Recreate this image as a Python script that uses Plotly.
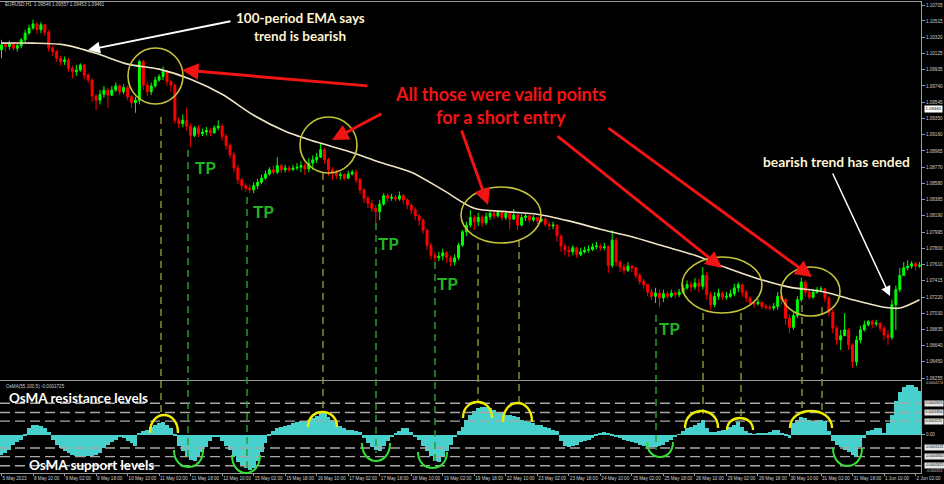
import plotly.graph_objects as go

# ---------------- canvas geometry ----------------
W, H = 944, 484
ML, MR, MT, MB = 0, 23, 2, 11
PW, PH = W - ML - MR, H - MT - MB

# ---------------- data (EURUSD, 2-hour bars) ----------------
bar_open = [1.1017, 1.1023, 1.1021, 1.1024, 1.1019, 1.1022, 1.1029, 1.1037, 1.1043, 1.1048,
            1.1041, 1.1047, 1.1038, 1.1019, 1.1015, 1.1007, 1.1003, 1.1005, 1.0995, 1.0991,
            1.0993, 1.0999, 1.0987, 1.0981, 1.0962, 1.0957, 1.0964, 1.0969, 1.0963, 1.0969,
            1.0974, 1.0967, 1.0972, 1.0961, 1.0954, 1.0957, 1.1003, 1.0975, 1.0967, 1.0974,
            1.0981, 1.0985, 1.0991, 1.0979, 1.0975, 1.0933, 1.0929, 1.0933, 1.0926, 1.0915,
            1.0924, 1.0917, 1.0919, 1.0921, 1.0918, 1.0924, 1.0926, 1.0914, 1.0903, 1.0892,
            1.0876, 1.0862, 1.0855, 1.0852, 1.0850, 1.0855, 1.0859, 1.0864, 1.0869, 1.0874,
            1.0871, 1.0879, 1.0874, 1.0876, 1.0874, 1.0876, 1.0877, 1.0879, 1.0875, 1.0882,
            1.0886, 1.0889, 1.0898, 1.0886, 1.0874, 1.0870, 1.0867, 1.0868, 1.0864, 1.0869,
            1.0871, 1.0862, 1.0850, 1.0840, 1.0834, 1.0828, 1.0824, 1.0833, 1.0843, 1.0840,
            1.0841, 1.0839, 1.0843, 1.0838, 1.0832, 1.0826, 1.0819, 1.0814, 1.0802, 1.0784,
            1.0772, 1.0769, 1.0771, 1.0775, 1.0769, 1.0764, 1.0769, 1.0784, 1.0800, 1.0808,
            1.0817, 1.0812, 1.0817, 1.0811, 1.0818, 1.0822, 1.0819, 1.0823, 1.0817, 1.0822,
            1.0815, 1.0820, 1.0808, 1.0817, 1.0819, 1.0814, 1.0817, 1.0813, 1.0815, 1.0809,
            1.0807, 1.0808, 1.0795, 1.0783, 1.0778, 1.0776, 1.0781, 1.0773, 1.0776, 1.0778,
            1.0779, 1.0782, 1.0783, 1.0781, 1.0782, 1.0760, 1.0790, 1.0764, 1.0758, 1.0754,
            1.0759, 1.0757, 1.0748, 1.0741, 1.0737, 1.0728, 1.0723, 1.0727, 1.0721, 1.0726,
            1.0723, 1.0727, 1.0725, 1.0728, 1.0733, 1.0737, 1.0734, 1.0739, 1.0735, 1.0748,
            1.0725, 1.0713, 1.0723, 1.0727, 1.0722, 1.0723, 1.0726, 1.0733, 1.0737, 1.0728,
            1.0721, 1.0715, 1.0714, 1.0716, 1.0711, 1.0710, 1.0709, 1.0711, 1.0723, 1.0719,
            1.0697, 1.0686, 1.0700, 1.0719, 1.0740, 1.0728, 1.0722, 1.0728, 1.0731, 1.0732,
            1.0721, 1.0704, 1.0685, 1.0671, 1.0676, 1.0683, 1.0665, 1.0645, 1.0671, 1.0683,
            1.0689, 1.0693, 1.0690, 1.0691, 1.0685, 1.0677, 1.0674, 1.0713, 1.0731, 1.0748,
            1.0757, 1.0759, 1.0762, 1.0759]

bar_high = [1.1029, 1.1026, 1.1028, 1.1025, 1.1024, 1.1031, 1.1041, 1.1047, 1.1053, 1.1050,
            1.1050, 1.1048, 1.1041, 1.1022, 1.1017, 1.1010, 1.1009, 1.1007, 1.0998, 1.0999,
            1.1001, 1.1000, 1.0989, 1.0983, 1.0964, 1.0969, 1.0974, 1.0972, 1.0974, 1.0978,
            1.0976, 1.0976, 1.0974, 1.0963, 1.0961, 1.1005, 1.1005, 1.0979, 1.0978, 1.0985,
            1.0988, 1.0997, 1.0993, 1.0981, 1.0976, 1.0937, 1.0940, 1.0948, 1.0929, 1.0926,
            1.0927, 1.0923, 1.0925, 1.0924, 1.0927, 1.0933, 1.0929, 1.0917, 1.0906, 1.0895,
            1.0880, 1.0864, 1.0858, 1.0856, 1.0859, 1.0863, 1.0868, 1.0873, 1.0877, 1.0879,
            1.0889, 1.0881, 1.0880, 1.0879, 1.0880, 1.0882, 1.0884, 1.0882, 1.0888, 1.0891,
            1.0894, 1.0906, 1.0900, 1.0888, 1.0877, 1.0874, 1.0871, 1.0870, 1.0873, 1.0874,
            1.0874, 1.0864, 1.0852, 1.0843, 1.0838, 1.0832, 1.0838, 1.0846, 1.0846, 1.0845,
            1.0844, 1.0848, 1.0845, 1.0840, 1.0834, 1.0829, 1.0821, 1.0816, 1.0804, 1.0787,
            1.0776, 1.0776, 1.0780, 1.0777, 1.0772, 1.0773, 1.0787, 1.0802, 1.0812, 1.0826,
            1.0820, 1.0823, 1.0820, 1.0823, 1.0826, 1.0825, 1.0826, 1.0825, 1.0825, 1.0824,
            1.0827, 1.0824, 1.0821, 1.0821, 1.0820, 1.0820, 1.0818, 1.0819, 1.0817, 1.0812,
            1.0812, 1.0809, 1.0797, 1.0786, 1.0783, 1.0784, 1.0782, 1.0781, 1.0782, 1.0784,
            1.0786, 1.0788, 1.0786, 1.0787, 1.0784, 1.0802, 1.0793, 1.0766, 1.0762, 1.0764,
            1.0760, 1.0758, 1.0751, 1.0744, 1.0738, 1.0732, 1.0733, 1.0731, 1.0731, 1.0729,
            1.0731, 1.0729, 1.0732, 1.0737, 1.0742, 1.0741, 1.0745, 1.0744, 1.0758, 1.0752,
            1.0728, 1.0728, 1.0732, 1.0729, 1.0728, 1.0731, 1.0738, 1.0740, 1.0738, 1.0731,
            1.0723, 1.0719, 1.0720, 1.0717, 1.0714, 1.0713, 1.0715, 1.0728, 1.0726, 1.0721,
            1.0701, 1.0704, 1.0723, 1.0745, 1.0742, 1.0731, 1.0732, 1.0734, 1.0735, 1.0733,
            1.0723, 1.0707, 1.0688, 1.0683, 1.0703, 1.0685, 1.0667, 1.0676, 1.0688, 1.0694,
            1.0695, 1.0695, 1.0695, 1.0692, 1.0688, 1.0683, 1.0719, 1.0736, 1.0757, 1.0764,
            1.0766, 1.0765, 1.0764, 1.0764]

bar_low = [1.1007, 1.1015, 1.1017, 1.1016, 1.1015, 1.1019, 1.1026, 1.1035, 1.1041, 1.1036,
           1.1037, 1.1034, 1.1015, 1.1010, 1.1003, 1.0998, 1.0999, 1.0991, 1.0983, 1.0986,
           1.0991, 1.0982, 1.0978, 1.0955, 1.0945, 1.0952, 1.0960, 1.0948, 1.0962, 1.0967,
           1.0963, 1.0964, 1.0957, 1.0948, 1.0942, 1.0952, 1.0969, 1.0962, 1.0963, 1.0972,
           1.0979, 1.0981, 1.0974, 1.0967, 1.0929, 1.0924, 1.0925, 1.0921, 1.0901, 1.0913,
           1.0913, 1.0914, 1.0915, 1.0914, 1.0917, 1.0921, 1.0909, 1.0898, 1.0888, 1.0871,
           1.0857, 1.0850, 1.0848, 1.0846, 1.0846, 1.0851, 1.0857, 1.0862, 1.0867, 1.0868,
           1.0869, 1.0870, 1.0871, 1.0871, 1.0873, 1.0874, 1.0871, 1.0868, 1.0871, 1.0874,
           1.0882, 1.0888, 1.0881, 1.0867, 1.0862, 1.0863, 1.0862, 1.0861, 1.0863, 1.0867,
           1.0858, 1.0845, 1.0834, 1.0828, 1.0824, 1.0810, 1.0814, 1.0831, 1.0836, 1.0837,
           1.0836, 1.0837, 1.0833, 1.0827, 1.0821, 1.0814, 1.0807, 1.0798, 1.0778, 1.0767,
           1.0764, 1.0765, 1.0766, 1.0763, 1.0759, 1.0760, 1.0766, 1.0782, 1.0795, 1.0805,
           1.0802, 1.0807, 1.0806, 1.0808, 1.0814, 1.0815, 1.0817, 1.0813, 1.0814, 1.0803,
           1.0814, 1.0802, 1.0806, 1.0813, 1.0811, 1.0812, 1.0809, 1.0811, 1.0806, 1.0802,
           1.0803, 1.0788, 1.0776, 1.0772, 1.0770, 1.0772, 1.0769, 1.0771, 1.0774, 1.0775,
           1.0777, 1.0779, 1.0777, 1.0778, 1.0751, 1.0757, 1.0759, 1.0752, 1.0750, 1.0752,
           1.0752, 1.0744, 1.0737, 1.0732, 1.0723, 1.0719, 1.0715, 1.0710, 1.0716, 1.0720,
           1.0721, 1.0721, 1.0722, 1.0726, 1.0731, 1.0728, 1.0731, 1.0728, 1.0731, 1.0719,
           1.0707, 1.0710, 1.0719, 1.0719, 1.0719, 1.0721, 1.0723, 1.0728, 1.0722, 1.0716,
           1.0712, 1.0709, 1.0712, 1.0708, 1.0707, 1.0706, 1.0706, 1.0707, 1.0713, 1.0689,
           1.0679, 1.0683, 1.0697, 1.0716, 1.0723, 1.0719, 1.0720, 1.0726, 1.0728, 1.0716,
           1.0699, 1.0679, 1.0665, 1.0659, 1.0676, 1.0659, 1.0638, 1.0640, 1.0667, 1.0681,
           1.0687, 1.0685, 1.0687, 1.0681, 1.0671, 1.0665, 1.0671, 1.0683, 1.0728, 1.0751,
           1.0754, 1.0756, 1.0754, 1.0757]

bar_close = [1.1023, 1.1021, 1.1024, 1.1019, 1.1022, 1.1029, 1.1037, 1.1043, 1.1048, 1.1041,
             1.1047, 1.1038, 1.1019, 1.1015, 1.1007, 1.1003, 1.1005, 1.0995, 1.0991, 1.0993,
             1.0999, 1.0987, 1.0981, 1.0962, 1.0957, 1.0964, 1.0969, 1.0963, 1.0969, 1.0974,
             1.0967, 1.0972, 1.0961, 1.0954, 1.0957, 1.1003, 1.0975, 1.0967, 1.0974, 1.0981,
             1.0985, 1.0991, 1.0979, 1.0975, 1.0933, 1.0929, 1.0933, 1.0926, 1.0915, 1.0924,
             1.0917, 1.0919, 1.0921, 1.0918, 1.0924, 1.0926, 1.0914, 1.0903, 1.0892, 1.0876,
             1.0862, 1.0855, 1.0852, 1.0850, 1.0855, 1.0859, 1.0864, 1.0869, 1.0874, 1.0871,
             1.0879, 1.0874, 1.0876, 1.0874, 1.0876, 1.0877, 1.0879, 1.0875, 1.0882, 1.0886,
             1.0889, 1.0898, 1.0886, 1.0874, 1.0870, 1.0867, 1.0868, 1.0864, 1.0869, 1.0871,
             1.0862, 1.0850, 1.0840, 1.0834, 1.0828, 1.0824, 1.0833, 1.0843, 1.0840, 1.0841,
             1.0839, 1.0843, 1.0838, 1.0832, 1.0826, 1.0819, 1.0814, 1.0802, 1.0784, 1.0772,
             1.0769, 1.0771, 1.0775, 1.0769, 1.0764, 1.0769, 1.0784, 1.0800, 1.0808, 1.0817,
             1.0812, 1.0817, 1.0811, 1.0818, 1.0822, 1.0819, 1.0823, 1.0817, 1.0822, 1.0815,
             1.0820, 1.0808, 1.0817, 1.0819, 1.0814, 1.0817, 1.0813, 1.0815, 1.0809, 1.0807,
             1.0808, 1.0795, 1.0783, 1.0778, 1.0776, 1.0781, 1.0773, 1.0776, 1.0778, 1.0779,
             1.0782, 1.0783, 1.0781, 1.0782, 1.0760, 1.0790, 1.0764, 1.0758, 1.0754, 1.0759,
             1.0757, 1.0748, 1.0741, 1.0737, 1.0728, 1.0723, 1.0727, 1.0721, 1.0726, 1.0723,
             1.0727, 1.0725, 1.0728, 1.0733, 1.0737, 1.0734, 1.0739, 1.0735, 1.0748, 1.0725,
             1.0713, 1.0723, 1.0727, 1.0722, 1.0723, 1.0726, 1.0733, 1.0737, 1.0728, 1.0721,
             1.0715, 1.0714, 1.0716, 1.0711, 1.0710, 1.0709, 1.0711, 1.0723, 1.0719, 1.0697,
             1.0686, 1.0700, 1.0719, 1.0740, 1.0728, 1.0722, 1.0728, 1.0731, 1.0732, 1.0721,
             1.0704, 1.0685, 1.0671, 1.0676, 1.0683, 1.0665, 1.0645, 1.0671, 1.0683, 1.0689,
             1.0693, 1.0690, 1.0691, 1.0685, 1.0677, 1.0674, 1.0713, 1.0731, 1.0748, 1.0757,
             1.0759, 1.0762, 1.0759, 1.0760]

bar_idx = list(range(len(bar_close)))

# 100-period EMA (bar index, value)
ema_idx = [0, 8, 16, 24, 32, 40, 48, 56, 64, 72, 80, 88, 96, 104, 112, 120, 128, 136,
           144, 152, 160, 168, 176, 184, 192, 200, 208, 216, 224, 228, 233]
ema_val = [1.1025, 1.1025, 1.1023, 1.1013, 1.1000, 1.0994, 1.0982, 1.0964, 1.0939, 1.0920,
           1.0907, 1.0896, 1.0883, 1.0871, 1.0850, 1.0828, 1.0824, 1.0821, 1.0813, 1.0803,
           1.0794, 1.0783, 1.0772, 1.0757, 1.0744, 1.0734, 1.0729, 1.0719, 1.0710, 1.0709,
           1.0719]

# OsMA(55,100,5) histogram, one value per bar
osma = [-0.000168, -0.000158, -0.000126, -0.000084, -0.000063, -0.000042, -0.000011, 0.000053, 0.000084, 0.000084,
        0.000074, 0.000053, 0.000021, -0.000042, -0.000084, -0.000116, -0.000137, -0.000158, -0.000168, -0.000179,
        -0.000179, -0.000189, -0.000179, -0.000179, -0.000168, -0.000158, -0.000116, -0.000084, -0.000063, -0.000042,
        -0.000021, -0.000032, -0.000053, -0.000074, -0.000095, 0.000011, 0.000032, 0.000042, 0.000063, 0.000084,
        0.000095, 0.000105, 0.000084, 0.000053, -0.000011, -0.000095, -0.000137, -0.000179, -0.000210, -0.000221,
        -0.000189, -0.000147, -0.000105, -0.000053, -0.000021, -0.000021, -0.000053, -0.000095, -0.000126, -0.000179,
        -0.000231, -0.000263, -0.000284, -0.000294, -0.000284, -0.000221, -0.000147, -0.000074, -0.000011, 0.000032,
        0.000053, 0.000063, 0.000074, 0.000084, 0.000095, 0.000105, 0.000116, 0.000116, 0.000126, 0.000137,
        0.000158, 0.000179, 0.000179, 0.000147, 0.000126, 0.000105, 0.000074, 0.000053, 0.000042, 0.000042,
        0.000032, 0.000021, -0.000032, -0.000074, -0.000105, -0.000126, -0.000137, -0.000095, -0.000053, -0.000021,
        0.000011, 0.000032, 0.000053, 0.000053, 0.000021, -0.000021, -0.000042, -0.000095, -0.000137, -0.000179,
        -0.000221, -0.000231, -0.000189, -0.000137, -0.000084, -0.000021, 0.000032, 0.000063, 0.000126, 0.000168,
        0.000200, 0.000221, 0.000231, 0.000231, 0.000221, 0.000210, 0.000189, 0.000179, 0.000168, 0.000168,
        0.000158, 0.000147, 0.000126, 0.000116, 0.000105, 0.000095, 0.000084, 0.000084, 0.000063, 0.000053,
        0.000042, 0.000032, -0.000053, -0.000095, -0.000105, -0.000095, -0.000084, -0.000063, -0.000053, -0.000042,
        -0.000032, -0.000011, 0.000011, 0.000021, 0.000011, -0.000011, -0.000021, -0.000032, -0.000042, -0.000053,
        -0.000063, -0.000074, -0.000084, -0.000095, -0.000105, -0.000105, -0.000105, -0.000095, -0.000084, -0.000063,
        -0.000042, -0.000021, 0.000002, 0.000032, 0.000053, 0.000063, 0.000084, 0.000095, 0.000126, 0.000053,
        0.000021, 0.000021, 0.000032, 0.000042, 0.000042, 0.000063, 0.000084, 0.000105, 0.000063, 0.000032,
        0.000011, 0.000003, 0.000011, 0.000011, 0.000011, 0.000021, 0.000042, 0.000042, 0.000011, -0.000011,
        -0.000032, 0.000095, 0.000126, 0.000147, 0.000137, 0.000126, 0.000116, 0.000126, 0.000126, 0.000116,
        0.000032, -0.000053, -0.000084, -0.000105, -0.000126, -0.000147, -0.000168, -0.000189, -0.000105, -0.000032,
        0.000032, 0.000042, 0.000053, 0.000053, 0.000011, 0.000095, 0.000168, 0.000284, 0.000357, 0.000399,
        0.000417, 0.000417, 0.000399, 0.000368]

osma_levels = [0.0002625, 0.000185, 0.0001125, -0.0001125, -0.000185, -0.0002625]
osma_level_text = ["0.0002625", "0.0001850", "0.0001125", "-0.0001125", "-0.0001850", "-0.0002625"]

tick_idx = [0, 8, 16, 24, 32, 40, 48, 56, 64, 72, 80, 88, 96, 104, 112, 120, 128, 136, 144,
            152, 160, 168, 176, 184, 192, 200, 208, 216, 224, 232]
tick_text = ["5 May 2023", "8 May 10:00", "9 May 02:00", "9 May 18:00", "10 May 10:00",
             "11 May 02:00", "11 May 18:00", "12 May 10:00", "15 May 02:00", "15 May 18:00",
             "16 May 10:00", "17 May 02:00", "17 May 18:00", "18 May 10:00", "19 May 02:00",
             "19 May 18:00", "22 May 10:00", "23 May 02:00", "23 May 18:00", "24 May 10:00",
             "25 May 02:00", "25 May 18:00", "26 May 10:00", "29 May 02:00", "29 May 18:00",
             "30 May 10:00", "31 May 02:00", "31 May 18:00", "1 Jun 10:00", "2 Jun 02:00"]

price_ticks = [1.10705, 1.10515, 1.10320, 1.10125, 1.09935, 1.09740, 1.09545, 1.09350,
               1.09160, 1.08965, 1.08770, 1.08580, 1.08385, 1.08190, 1.07995, 1.07800,
               1.07610, 1.07415, 1.07220, 1.07030, 1.06835, 1.06640, 1.06450, 1.06255]
last_price = 1.09461

# ---------------- helpers for overlay drawing (pixel -> paper) ----------------
def px(x):
    return (x - ML) / PW


def py(y):
    return (H - MB - y) / PH


GRID = "#9a9a9a"
AX_FONT = dict(family="Liberation Sans", size=4.6, color="#cfcfcf")
SMALL_FONT = dict(family="Liberation Sans", size=3.6, color="#cfcfcf")
BOX_FONT = dict(family="Liberation Sans", size=3.6, color="#000000")
CREAM = "#FFF3D2"
RED = "#F01414"
TPG = "#22B422"

fig = go.Figure()

fig.add_trace(go.Candlestick(
    x=bar_idx, open=bar_open, high=bar_high, low=bar_low, close=bar_close,
    increasing=dict(line=dict(color="#00FF00", width=1), fillcolor="#00FF00"),
    decreasing=dict(line=dict(color="#FF0000", width=1), fillcolor="#FF0000"),
    whiskerwidth=0, xaxis="x", yaxis="y", showlegend=False, hoverinfo="skip"))

fig.add_trace(go.Scatter(
    x=ema_idx, y=ema_val, mode="lines", xaxis="x", yaxis="y",
    line=dict(color="#EFE4C4", width=1.6, shape="spline", smoothing=0.8),
    showlegend=False, hoverinfo="skip"))

fig.add_trace(go.Bar(
    x=bar_idx, y=osma, xaxis="x2", yaxis="y2",
    marker=dict(color="#48D1CC", line=dict(width=0)),
    showlegend=False, hoverinfo="skip"))

xr = [-0.38, 233.38]
main_dom = [(H - MB - 380) / PH, 1.0]
osma_dom = [0.0, (H - MB - 381) / PH]

fig.update_layout(
    width=W, height=H,
    margin=dict(l=ML, r=MR, t=MT, b=MB, pad=0),
    paper_bgcolor="#000000", plot_bgcolor="#000000",
    bargap=0, boxgap=0.3, showlegend=False, hovermode=False,
    xaxis=dict(domain=[0, 1], anchor="y", range=xr, showticklabels=False, ticks="",
               showgrid=False, zeroline=False, showline=True, mirror=True,
               linecolor=GRID, linewidth=1, rangeslider=dict(visible=False)),
    xaxis2=dict(domain=[0, 1], anchor="y2", range=xr, matches="x",
                tickmode="array", tickvals=tick_idx, ticktext=tick_text,
                tickangle=0, ticks="outside", ticklen=2, tickcolor=GRID, tickfont=AX_FONT,
                ticklabelposition="outside right", ticklabelstandoff=0,
                showgrid=False, zeroline=False, showline=True, mirror=True,
                linecolor=GRID, linewidth=1, automargin=False),
    yaxis=dict(domain=main_dom, anchor="x", side="right", range=[1.06232, 1.10741],
               tickmode="array", tickvals=price_ticks,
               ticktext=[f"{v:.5f}" for v in price_ticks],
               ticks="outside", ticklen=3, tickcolor=GRID, tickfont=AX_FONT,
               showgrid=False, zeroline=False, showline=True, mirror=True,
               linecolor=GRID, linewidth=1, automargin=False),
    yaxis2=dict(domain=osma_dom, anchor="x2", side="right", range=[-0.000323, 0.00045],
                tickmode="array", tickvals=[0], ticktext=["0.00"],
                ticks="outside", ticklen=3, tickcolor=GRID, tickfont=AX_FONT,
                showgrid=False, zeroline=False, showline=True, mirror=True,
                linecolor=GRID, linewidth=1, automargin=False),
)

shapes = []
annotations = []

# OsMA level dashed lines
for lv in osma_levels:
    shapes.append(dict(type="line", xref="paper", yref="y2", x0=0, x1=1, y0=lv, y1=lv,
                       line=dict(color="#a8a8a8", width=1.4, dash="10px,5px")))

# level boxes on the right axis
for lv, tx in zip(osma_levels, osma_level_text):
    annotations.append(dict(x=1.003, y=lv, xref="paper", yref="y2", xanchor="left",
                            yanchor="middle", text=tx, showarrow=False,
                            font=BOX_FONT, bgcolor="#e6e6e6", borderpad=0.4))
annotations.append(dict(x=1.003, y=py(383), xref="paper", yref="paper", xanchor="left",
                        yanchor="middle", text="0.0004174", showarrow=False, font=SMALL_FONT))
annotations.append(dict(x=1.003, y=py(471), xref="paper", yref="paper", xanchor="left",
                        yanchor="middle", text="-0.000323", showarrow=False, font=SMALL_FONT))
# current price box
annotations.append(dict(x=1.003, y=last_price, xref="paper", yref="y", xanchor="left",
                        yanchor="middle", text=f"{last_price:.5f}", showarrow=False,
                        font=dict(family="Liberation Sans", size=4.4, color="#000000"),
                        bgcolor="#ffffff", borderpad=0.4))
# chart headers
annotations.append(dict(x=px(3), y=py(5), xref="paper", yref="paper", xanchor="left",
                        yanchor="middle", showarrow=False, font=AX_FONT,
                        text="EURUSD,H1  1.09546 1.09557 1.09453 1.09461"))
annotations.append(dict(x=px(4), y=py(386), xref="paper", yref="paper", xanchor="left",
                        yanchor="middle", showarrow=False, font=AX_FONT,
                        text="OsMA(55,100,5) -0.0001725"))

# dashed verticals (olive = entries, green = take profits)
OLIVE = "#8E8E2A"
DGREEN = "#2A9A2A"
entry_lines = [(161, 117, 417), (323, 173, 412), (478, 243, 403), (519, 240, 404),
               (703, 313, 414), (741, 313, 420), (802, 305, 411), (822, 307, 411)]
tp_lines = [(188, 150, 462), (247, 197, 472), (376, 223, 453), (435, 262, 463), (656, 315, 450)]
for x, y0, y1 in entry_lines:
    shapes.append(dict(type="line", xref="paper", yref="paper", x0=px(x), x1=px(x),
                       y0=py(y0), y1=py(y1), line=dict(color=OLIVE, width=1.5, dash="7px,5px")))
for x, y0, y1 in tp_lines:
    shapes.append(dict(type="line", xref="paper", yref="paper", x0=px(x), x1=px(x),
                       y0=py(y0), y1=py(y1), line=dict(color=DGREEN, width=1.5, dash="7px,5px")))

# yellow ellipses around entries
for x0, x1, y0, y1 in [(128, 183, 48, 104), (300, 357, 117, 173), (461, 541, 187, 243),
                       (682, 762, 257, 313), (781, 840, 267, 316)]:
    shapes.append(dict(type="circle", xref="paper", yref="paper", x0=px(x0), x1=px(x1),
                       y0=py(y1), y1=py(y0), line=dict(color="#C4C43A", width=1.6)))


def arch(xa, xb, y_end, y_peak, color, width):
    yc = y_end + (y_peak - y_end) / 0.75
    path = (f"M {px(xa)},{py(y_end)} C {px(xa)},{py(yc)} "
            f"{px(xb)},{py(yc)} {px(xb)},{py(y_end)}")
    return dict(type="path", xref="paper", yref="paper", path=path,
                line=dict(color=color, width=width))


for xa, xb, ye, yp in [(150, 178, 433, 415), (308, 337, 427, 412), (463, 492, 418, 402),
                       (503, 532, 422, 403), (685, 718, 428, 411), (727, 753, 430, 418),
                       (790, 832, 428, 411)]:
    shapes.append(arch(xa, xb, ye, yp, "#EDED00", 2.4))
for xa, xb, ye, yp in [(174, 203, 450, 467), (232, 260, 455, 473), (362, 390, 443, 461),
                       (418, 447, 452, 468), (647, 673, 442, 457), (833, 862, 448, 466)]:
    shapes.append(arch(xa, xb, ye, yp, "#33E033", 2.0))


def label(text, x, y, size, color, anchor="center"):
    return dict(text=f"<b>{text}</b>", x=px(x), y=py(y), xref="paper", yref="paper",
                xanchor=anchor, yanchor="middle", showarrow=False,
                font=dict(family="Lato", size=size, color=color))


def arrow(tip, tail, color, width, size, head=2):
    return dict(x=px(tip[0]), y=py(tip[1]), xref="paper", yref="paper",
                ax=tail[0] - tip[0], ay=tail[1] - tip[1], axref="pixel", ayref="pixel",
                text="", showarrow=True, arrowhead=head, arrowsize=size,
                arrowwidth=width, arrowcolor=color, standoff=0)


annotations += [
    label("100-period EMA says", 300, 18, 13.5, CREAM),
    label("trend is bearish", 300, 36, 13.5, CREAM),
    label("All those were valid points", 500, 94, 18, RED),
    label("for a short entry", 501, 117, 18, RED),
    label("bearish trend has ended", 836, 161, 13.8, CREAM),
    label("TP", 205, 167, 17, TPG),
    label("TP", 263, 211, 17, TPG),
    label("TP", 388, 243, 17, TPG),
    label("TP", 447, 283, 17, TPG),
    label("TP", 669, 328, 17, TPG),
    label("OsMA resistance levels", 7, 398, 13.5, "#FFFFFF", "left"),
    label("OsMA support levels", 27, 465, 13.5, "#FFFFFF", "left"),
    arrow((88, 50), (232, 21), "#FFFFFF", 2, 1.2),
    arrow((890, 296), (832, 172), "#FFFFFF", 1.5, 1.3),
    arrow((182, 70), (369, 86), RED, 3, 1.1),
    arrow((332, 140), (383, 113), RED, 3, 1.1),
    arrow((488, 205), (461, 129), RED, 3, 1.1),
    arrow((722, 268), (556, 135), RED, 3, 1.1),
    arrow((812, 277), (607, 127), RED, 3, 1.1),
]

fig.update_layout(shapes=shapes, annotations=annotations)

fig.write_html("out.html", config={"displayModeBar": False},
               post_script="document.body.style.margin='0';document.body.style.overflow='hidden';")
